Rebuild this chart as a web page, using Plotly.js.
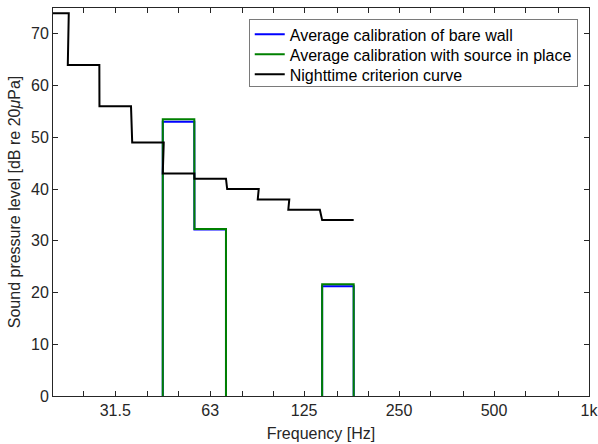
<!DOCTYPE html>
<html>
<head>
<meta charset="utf-8">
<script src="https://cdn.plot.ly/plotly-3.0.1.min.js"></script>
<style>html,body{margin:0;padding:0;background:#fff;}#chart{width:598px;height:444px;}</style>
</head>
<body>
<div id="chart"></div>
<script>
// One-third-octave band centre frequencies [Hz]
var bands = [20, 25, 31.5, 40, 50, 63, 80, 100, 125, 160];
// Band levels [dB re 20 uPa]
var criterion  = [74, 64, 56, 49, 43, 42, 40, 38, 36, 34];
var bareWall   = [null, null, null, null, 53.0, 32.2, null, null, null, 21.2];
var withSource = [null, null, null, null, 53.5, 32.3, null, null, null, 21.6];
// Axis ticks (one-third-octave marks, labelled at octaves)
var tickFreqs = [20, 25, 31.5, 40, 50, 63, 80, 100, 125, 160, 200, 250, 315, 400, 500, 630, 800, 1000];
var tickLabels = ['', '', '31.5', '', '', '63', '', '', '125', '', '', '250', '', '', '500', '', '', '1k'];
var yTicks = [0, 10, 20, 30, 40, 50, 60, 70];

function stairs(fc, vals, dropToZero) {
  var x = [], y = [];
  var half = Math.pow(10, 0.05);
  for (var i = 0; i < fc.length; i++) {
    var v = vals[i];
    if (v === null) continue;
    var lo = fc[i] / half, hi = fc[i] * half;
    var prevNull = (i === 0) || vals[i - 1] === null;
    var nextNull = (i === fc.length - 1) || vals[i + 1] === null;
    if (dropToZero && prevNull) { x.push(lo); y.push(0); }
    x.push(lo); y.push(v);
    x.push(hi); y.push(v);
    if (dropToZero && nextNull) { x.push(hi); y.push(0); x.push(null); y.push(null); }
  }
  return {x: x, y: y};
}

var sBare = stairs(bands, bareWall, true);
var sSrc = stairs(bands, withSource, true);
var sCrit = stairs(bands, criterion, false);

var font = 'Liberation Sans, Arial, Helvetica, sans-serif';
var axCol = '#262626';
var fs = 16;

var traces = [
  {x: sBare.x, y: sBare.y, mode: 'lines', name: 'Average calibration of bare wall',
   line: {color: '#0000ff', width: 2}, connectgaps: false},
  {x: sSrc.x, y: sSrc.y, mode: 'lines', name: 'Average calibration with source in place',
   line: {color: '#008000', width: 2}, connectgaps: false},
  {x: sCrit.x, y: sCrit.y, mode: 'lines', name: 'Nighttime criterion curve',
   line: {color: '#000000', width: 2}}
];

var layout = {
  width: 598, height: 444,
  margin: {l: 53, r: 9, t: 8, b: 48, pad: 0},
  paper_bgcolor: '#fff', plot_bgcolor: '#fff',
  font: {family: font, size: fs, color: axCol},
  showlegend: true,
  legend: {x: 0.979, y: 0.972, xanchor: 'right', yanchor: 'top',
    bgcolor: '#fff', bordercolor: '#7a7a7a', borderwidth: 1,
    font: {family: font, size: fs, color: '#000'}},
  xaxis: {type: 'log', range: [Math.log10(20), 3],
    tickmode: 'array', tickvals: tickFreqs, ticktext: tickLabels,
    ticks: 'inside', ticklen: 5, tickcolor: axCol, tickwidth: 1,
    ticklabeloverflow: 'allow',
    showline: true, linecolor: axCol, linewidth: 1, mirror: 'ticks',
    showgrid: false, zeroline: false,
    tickfont: {family: font, size: fs, color: axCol},
    title: {text: 'Frequency [Hz]', font: {family: font, size: fs, color: axCol}, standoff: 9}},
  yaxis: {range: [0, 75], tickmode: 'array', tickvals: yTicks,
    ticks: 'inside', ticklen: 5, tickcolor: axCol, tickwidth: 1,
    showline: true, linecolor: axCol, linewidth: 1, mirror: 'ticks',
    showgrid: false, zeroline: false,
    tickfont: {family: font, size: fs, color: axCol},
    title: {text: 'Sound pressure level [dB re 20<i>μ</i>Pa]', font: {family: font, size: fs, color: axCol}, standoff: 6}}
};

Plotly.newPlot('chart', traces, layout, {displayModeBar: false, staticPlot: true}).then(function (gd) {
  // tighten legend row spacing to match the compact reference legend
  var leg = gd.querySelector('.legend');
  if (!leg) return;
  var items = leg.querySelectorAll('.traces');
  var rowGap = 20, firstY = 15.5, boxH = 67;
  for (var i = 0; i < items.length; i++) {
    var t = items[i].getAttribute('transform') || '';
    var m = /translate\(([-\d.e]+)[ ,]+([-\d.e]+)\)/.exec(t);
    var x0 = m ? parseFloat(m[1]) : 0;
    items[i].setAttribute('transform', 'translate(' + x0 + ',' + (firstY + i * rowGap) + ')');
  }
  var bg = leg.querySelector('rect.bg');
  if (bg) bg.setAttribute('height', String(boxH));
});
</script>
</body>
</html>
